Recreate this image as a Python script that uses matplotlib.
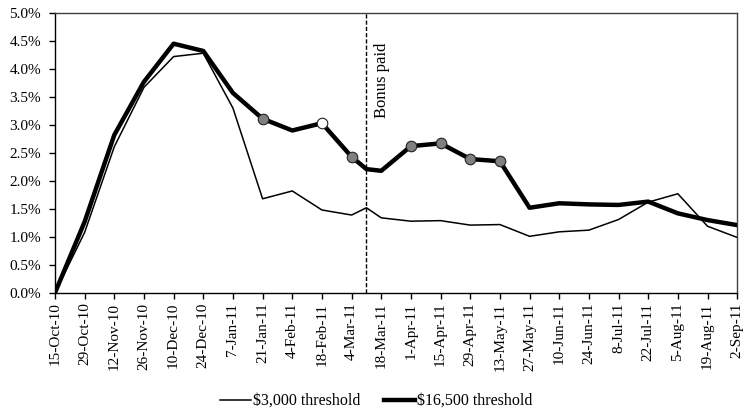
import matplotlib
matplotlib.use("Agg")
import matplotlib.pyplot as plt
import pandas as pd
from matplotlib.ticker import FuncFormatter, MultipleLocator

plt.rcParams['font.family'] = ['Liberation Serif', 'DejaVu Serif']

dates = ["2010-10-15", "2010-10-29", "2010-11-12", "2010-11-26", "2010-12-10", "2010-12-24",
         "2011-01-07", "2011-01-21", "2011-02-04", "2011-02-18", "2011-03-04", "2011-03-11",
         "2011-03-18", "2011-04-01", "2011-04-15", "2011-04-29", "2011-05-13", "2011-05-27",
         "2011-06-10", "2011-06-24", "2011-07-08", "2011-07-22", "2011-08-05", "2011-08-19",
         "2011-09-02"]
thin_3000 = [0.00, 1.08, 2.61, 3.67, 4.22, 4.28, 3.30, 1.68, 1.82, 1.48, 1.39, 1.52,
             1.34, 1.28, 1.29, 1.21, 1.22, 1.01, 1.09, 1.12, 1.31, 1.62, 1.77, 1.19, 0.99]
thick_16500 = [0.00, 1.27, 2.82, 3.77, 4.45, 4.32, 3.57, 3.11, 2.90, 3.03, 2.43, 2.21,
               2.18, 2.62, 2.67, 2.39, 2.35, 1.52, 1.60, 1.58, 1.57, 1.63, 1.42, 1.30, 1.21]
# markers on the $16,500 series: gray filled and white filled
gray_marker_dates = ["2011-01-21", "2011-03-04", "2011-04-01", "2011-04-15", "2011-04-29", "2011-05-13"]
white_marker_dates = ["2011-02-18"]
bonus_date = "2011-03-11"

tick_dates = ["2010-10-15", "2010-10-29", "2010-11-12", "2010-11-26", "2010-12-10", "2010-12-24",
              "2011-01-07", "2011-01-21", "2011-02-04", "2011-02-18", "2011-03-04", "2011-03-18",
              "2011-04-01", "2011-04-15", "2011-04-29", "2011-05-13", "2011-05-27", "2011-06-10",
              "2011-06-24", "2011-07-08", "2011-07-22", "2011-08-05", "2011-08-19", "2011-09-02"]
tick_labels = ["15-Oct-10", "29-Oct-10", "12-Nov-10", "26-Nov-10", "10-Dec-10", "24-Dec-10",
               "7-Jan-11", "21-Jan-11", "4-Feb-11", "18-Feb-11", "4-Mar-11", "18-Mar-11",
               "1-Apr-11", "15-Apr-11", "29-Apr-11", "13-May-11", "27-May-11", "10-Jun-11",
               "24-Jun-11", "8-Jul-11", "22-Jul-11", "5-Aug-11", "19-Aug-11", "2-Sep-11"]

x = pd.to_datetime(dates)
s_thick = pd.Series(thick_16500, index=x)

fig = plt.figure(figsize=(7.53, 4.16), dpi=100)
ax = fig.add_axes([0.073, 0.296, 0.906, 0.673])

ax.plot(x, thin_3000, color='black', lw=1.1, label='$3,000 threshold', zorder=3)
ax.plot(x, thick_16500, color='black', lw=3.2, label='$16,500 threshold', zorder=4,
        solid_joinstyle='round')

gx = pd.to_datetime(gray_marker_dates)
ax.plot(gx, s_thick.loc[gx].values, ls='none', marker='o', ms=7.6, mfc='#808080',
        mec='#222222', mew=0.8, zorder=5)
wx = pd.to_datetime(white_marker_dates)
ax.plot(wx, s_thick.loc[wx].values, ls='none', marker='o', ms=7.6, mfc='white',
        mec='#222222', mew=0.8, zorder=5)

bd = pd.to_datetime(bonus_date)
ax.axvline(bd, color='black', lw=1.0, ls=(0, (3, 1.5)), zorder=2)
ax.text(bd + pd.Timedelta(days=3.5), 4.47, 'Bonus paid', rotation=90, va='top', ha='left',
        fontsize=12)

ax.set_ylim(0, 5)
ax.yaxis.set_major_locator(MultipleLocator(0.5))
ax.yaxis.set_major_formatter(FuncFormatter(lambda v, p: f"{v:.1f}%"))
td = pd.to_datetime(tick_dates)
ax.set_xlim(td[0], td[-1])
ax.set_xticks(td)
ax.set_xticklabels(tick_labels, rotation=90)

ax.tick_params(axis='both', direction='out', length=4, width=1, labelsize=11, colors='black')
ax.tick_params(axis='y', pad=6)
ax.tick_params(axis='x', pad=3)
for sp in ax.spines.values():
    sp.set_color('#404040')
    sp.set_linewidth(1.0)
ax.spines['bottom'].set_color('black')
ax.spines['left'].set_color('black')

fig.legend(loc='lower center', bbox_to_anchor=(0.5, -0.018), ncol=2, frameon=False,
           fontsize=11.5, handlelength=1.9, handletextpad=0.15, columnspacing=1.5)

fig.savefig('out.png', dpi=100)
